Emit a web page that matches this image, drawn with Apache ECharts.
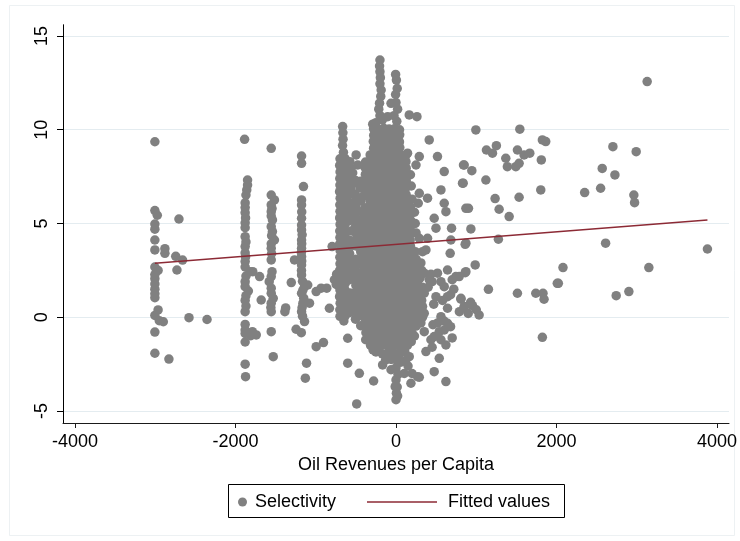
<!DOCTYPE html>
<html>
<head>
<meta charset="utf-8">
<title>Selectivity and oil revenues</title>
<script src="https://cdn.jsdelivr.net/npm/echarts@6/dist/echarts.min.js"></script>
<style>
  html, body { margin: 0; padding: 0; background: #fff; }
  #chart { width: 740px; height: 541px; }
</style>
</head>
<body>
<div id="chart"></div>
<script>
// Tick positions
const oilTicks = [-4000, -2000, 0, 2000, 4000];
const selTicks = [-5, 0, 5, 10, 15];

// Observations: [oil revenues per capita, selectivity]
const outerLeft = [
  [-3005,9.36],[-3005,5.69],[-2975,5.44],[-3005,4.97],[-3005,4.70],[-3005,4.12],[-3005,3.59],
  [-2880,3.66],[-2880,3.41],[-2745,3.25],[-2660,3.05],[-3005,2.68],[-2965,2.50],[-2730,2.52],
  [-3005,2.28],[-3005,2.06],[-3005,1.78],[-3005,1.50],[-3005,1.25],[-3005,1.04],[-2965,0.39],
  [-3005,0.10],[-2950,-0.18],[-2900,-0.24],[-3005,-0.79],[-3005,-1.92],[-2830,-2.23],
  [-2705,5.24],[-2580,-0.02],[-2355,-0.12]
];

const westBands = [
  [-1887,9.49],[-1850,7.32],[-1850,7.05],[-1860,6.79],[-1870,6.52],[-1880,6.10],[-1880,5.85],
  [-1880,5.58],[-1875,5.30],[-1880,5.04],[-1880,4.78],[-1880,4.30],[-1870,4.02],[-1880,3.77],
  [-1880,3.43],[-1875,3.22],[-1880,2.97],[-1880,2.68],[-1820,2.43],[-1870,2.20],[-1880,1.90],
  [-1880,1.63],[-1840,1.40],[-1870,1.15],[-1880,0.90],[-1870,0.60],[-1880,0.30],[-1880,-0.38],
  [-1880,-0.68],[-1880,-0.86],[-1810,-0.98],[-1880,-1.32],[-1880,-2.50],[-1875,-3.17],
  [-1785,2.43],[-1700,2.17],[-1680,0.92],[-1742,-0.94],[-1790,-0.77],
  [-1555,9.01],[-1555,6.52],[-1515,6.26],[-1555,5.99],[-1545,5.80],[-1555,5.63],[-1555,5.40],
  [-1540,5.19],[-1555,4.83],[-1540,4.57],[-1550,4.35],[-1515,4.12],[-1555,3.92],[-1555,3.68],
  [-1550,3.40],[-1555,3.06],[-1545,2.43],[-1555,2.17],[-1580,1.90],[-1555,1.55],[-1555,1.28],
  [-1530,1.01],[-1555,0.75],[-1560,0.52],[-1555,0.30],[-1555,-0.77],[-1530,-2.10],
  [-1305,1.85],[-1385,0.30],[-1375,0.50],
  [-1177,8.60],[-1177,8.21],[-1153,6.97],[-1177,6.26],[-1177,5.99],[-1175,5.62],[-1177,5.28],
  [-1177,4.92],[-1177,4.66],[-1170,4.40],[-1177,4.12],[-1175,3.92],[-1177,3.68],[-1180,3.45],
  [-1177,3.23],[-1175,3.00],[-1177,2.79],[-1178,2.50],[-1177,2.26],[-1265,3.06],[-1165,1.92],
  [-1140,1.63],[-1100,1.72],[-1160,1.45],[-1177,1.28],[-1150,1.02],[-1160,0.75],[-1078,0.75],
  [-1170,0.52],[-1177,0.30],[-1165,0.06],[-1140,-0.23],[-1245,-0.64],[-1180,-0.82],
  [-1115,-2.45],[-1130,-3.25],
  [-995,1.37],[-933,1.55],[-863,1.55],[-830,0.48],[-995,-1.57],[-904,-1.35],[-796,3.77],[-768,2.00]
];

const band700 = [
  [-665,10.17],[-662,9.84],[-660,9.50],[-666,9.16],[-655,8.80],
  [-698,8.45],[-636,8.47],[-702,8.10],[-633,8.12],[-697,7.75],[-637,7.77],[-701,7.40],[-634,7.42],
  [-699,7.05],[-636,7.07],[-703,6.70],[-632,6.72],[-696,6.35],[-638,6.37],[-700,6.00],[-635,6.02],
  [-698,5.65],[-633,5.67],[-702,5.30],[-637,5.32],[-697,4.95],[-634,4.97],[-701,4.60],[-636,4.62],
  [-699,4.25],[-632,4.27],[-703,3.90],[-638,3.92],[-696,3.55],[-635,3.57],[-700,3.20],[-633,3.22],
  [-698,2.85],[-637,2.87],[-702,2.50],[-634,2.52],[-697,2.15],[-636,2.17],[-701,1.80],[-632,1.82],
  [-699,1.45],[-638,1.47],[-703,1.10],[-635,1.12],[-696,0.75],[-633,0.77],[-700,0.40],[-637,0.42],
  [-698,0.05],[-634,0.07],[-650,-0.20],[-740,2.30],[-745,1.75],
  [-497,8.66],[-477,8.12],[-477,7.15],[-415,6.43],[-430,5.63],[-500,5.90],[-500,5.20],[-440,4.90],
  [-500,4.50],[-430,4.20],[-500,3.80],[-440,3.50],[-500,3.10],[-430,2.80],[-500,2.40],[-440,2.05],
  [-500,1.70],[-430,1.40],[-500,1.00],[-440,0.70],[-500,0.35],[-430,0.10],[-560,6.90],[-560,6.10],
  [-560,4.60],[-560,2.90],[-560,1.20],[-540,7.70]
];

// Between the -700 band and the central mass
const gapFill = [
  [-575,8.30],[-380,8.28],[-570,7.95],[-385,7.98],[-578,7.60],[-382,7.62],
  [-572,7.27],[-505,7.30],[-440,7.25],[-378,7.28],[-576,6.55],[-510,6.58],[-445,6.90],[-384,6.92],
  [-500,6.22],[-438,6.20],[-381,6.56],[-574,5.86],[-386,5.84],[-571,5.50],[-505,5.52],[-379,5.48],
  [-577,5.15],[-445,5.17],[-383,5.13],[-508,4.80],[-381,4.82],[-440,4.45],[-385,4.47],
  [-575,4.10],[-505,4.12],[-382,4.08],[-572,3.76],[-442,3.78],[-380,3.74],[-578,3.40],[-386,3.42],
  [-571,3.05],[-440,3.07],[-383,3.03],[-576,2.70],[-505,2.72],[-381,2.68],[-573,2.34],[-445,2.36],
  [-384,2.32],[-577,2.00],[-508,2.02],[-379,1.98],[-442,1.65],[-382,1.63],[-575,1.30],[-505,1.32],
  [-386,1.28],[-572,0.95],[-440,0.97],[-380,0.93],[-576,0.60],[-510,0.62],[-384,0.58],
  [-573,0.26],[-445,0.28],[-381,0.24],[-505,-0.10],[-385,-0.12],[-440,-0.45],[-380,-0.47],
  [-375,-0.82],[-378,-1.20]
];

const coreTop = [
  [-200,13.72],[-205,13.40],[-200,13.10],[-195,12.78],[-200,12.45],[-185,12.12],[-190,11.78],
  [-205,11.42],[-215,11.10],[-200,10.75],[-250,10.38],[-170,10.52],[-62,11.41],[-104,10.70],
  [-5,12.95],[5,12.65],[15,12.20],[-5,11.88],[0,11.45],[20,11.10],[-25,10.75],[10,10.45],
  [-290,10.30],[-311,8.57]
];

const core = [
  [-280,10.05],[-214,10.02],[-152,10.08],[-86,10.04],[-18,10.06],[44,10.00],
  [-278,9.70],[-216,9.72],[-148,9.68],[-84,9.71],[-22,9.69],[46,9.73],
  [-283,9.38],[-212,9.36],[-151,9.40],[-88,9.37],[-19,9.39],[43,9.35],
  [-279,9.02],[-217,9.04],[-149,9.01],[-83,9.03],[-21,9.00],[47,9.05],
  [-322,8.66],[-254,8.68],[-191,8.64],[-124,8.67],[-61,8.65],[4,8.69],[66,8.63],[126,8.66],
  [-318,8.30],[-257,8.32],[-188,8.28],[-127,8.31],[-58,8.29],[7,8.33],[63,8.27],[124,8.30],
  [-321,7.95],[-253,7.97],[-192,7.93],[-123,7.96],[-62,7.94],[3,7.98],[67,7.92],[127,7.95],
  [-319,7.62],[-256,7.60],[-189,7.64],[-126,7.61],[-59,7.63],[6,7.59],[64,7.65],[123,7.62],
  [-323,7.27],[-252,7.29],[-193,7.25],[-122,7.28],[-63,7.26],[2,7.30],[68,7.24],[128,7.27],
  [-317,6.90],[-258,6.92],[-187,6.88],[-128,6.91],[-57,6.89],[8,6.93],[62,6.87],[122,6.90],
  [-320,6.56],[-255,6.58],[-190,6.54],[-125,6.57],[-60,6.55],[5,6.59],[65,6.53],[125,6.56],
  [-324,6.20],[-251,6.22],[-194,6.18],[-121,6.21],[-64,6.19],[1,6.23],[69,6.17],[129,6.20],
  [-336,5.86],[-269,5.88],[-206,5.84],[-139,5.87],[-76,5.85],[-9,5.89],[56,5.83],[119,5.86],[181,5.88],
  [-333,5.50],[-272,5.52],[-203,5.48],[-142,5.51],[-73,5.49],[-12,5.53],[53,5.47],[122,5.50],[178,5.52],
  [-337,5.15],[-268,5.17],[-207,5.13],[-138,5.16],[-77,5.14],[-8,5.18],[57,5.12],[118,5.15],[182,5.17],
  [-334,4.80],[-271,4.82],[-204,4.78],[-141,4.81],[-74,4.79],[-11,4.83],[54,4.77],[121,4.80],[179,4.82],
  [-338,4.45],[-267,4.47],[-208,4.43],[-137,4.46],[-78,4.44],[-7,4.48],[58,4.42],[117,4.45],[183,4.47],
  [-332,4.10],[-273,4.12],[-202,4.08],[-143,4.11],[-72,4.09],[-13,4.13],[52,4.07],[123,4.10],[177,4.12],
  [-336,3.76],[-269,3.78],[-206,3.74],[-139,3.77],[-76,3.75],[-9,3.79],[56,3.73],[119,3.76],[181,3.78],
  [-333,3.40],[-272,3.42],[-203,3.38],[-142,3.41],[-73,3.39],[-12,3.43],[53,3.37],[122,3.40],[178,3.42],
  [-337,3.05],[-268,3.07],[-207,3.03],[-138,3.06],[-77,3.04],[-8,3.08],[57,3.02],[118,3.05],[182,3.07],
  [-334,2.70],[-271,2.72],[-204,2.68],[-141,2.71],[-74,2.69],[-11,2.73],[54,2.67],[121,2.70],[179,2.72],
  [-338,2.34],[-267,2.36],[-208,2.32],[-137,2.35],[-78,2.33],[-7,2.37],[58,2.31],[117,2.34],[183,2.36],
  [-332,2.00],[-273,2.02],[-202,1.98],[-143,2.01],[-72,1.99],[-13,2.03],[52,1.97],[123,2.00],[177,2.02],
  [-331,1.65],[-264,1.67],[-201,1.63],[-134,1.66],[-71,1.64],[-4,1.68],[61,1.62],[124,1.65],[191,1.67],[249,1.63],
  [-328,1.30],[-267,1.32],[-198,1.28],[-137,1.31],[-68,1.29],[-7,1.33],[58,1.27],[127,1.30],[188,1.32],[252,1.28],
  [-332,0.95],[-263,0.97],[-202,0.93],[-133,0.96],[-72,0.94],[-3,0.98],[62,0.92],[123,0.95],[192,0.97],[248,0.93],
  [-329,0.60],[-266,0.62],[-199,0.58],[-136,0.61],[-69,0.59],[-6,0.63],[59,0.57],[126,0.60],[189,0.62],[251,0.58],
  [-333,0.26],[-262,0.28],[-203,0.24],[-132,0.27],[-73,0.25],[-2,0.29],[63,0.23],[122,0.26],[193,0.28],[247,0.24],
  [-327,-0.10],[-268,-0.08],[-197,-0.12],[-138,-0.09],[-67,-0.11],[-8,-0.07],[57,-0.13],[128,-0.10],[187,-0.08],[253,-0.12],
  [-330,-0.45],[-265,-0.43],[-200,-0.47],[-135,-0.44],[-70,-0.46],[-5,-0.42],[60,-0.48],[125,-0.45],[190,-0.43],[250,-0.47],
  [-316,-0.80],[-249,-0.78],[-186,-0.82],[-119,-0.79],[-56,-0.81],[11,-0.77],[74,-0.83],[141,-0.80],
  [-313,-1.15],[-252,-1.13],[-183,-1.17],[-122,-1.14],[-53,-1.16],[8,-1.12],[77,-1.18],[138,-1.15],
  [-317,-1.50],[-248,-1.48],[-187,-1.52],[-118,-1.49],[-57,-1.51],[12,-1.47],[73,-1.53],[142,-1.50]
];

const coreTail = [
  [-250,-1.85],[-170,-1.95],[-100,-1.90],[-30,-1.88],[40,-1.92],[110,-1.85],[-130,-2.28],[-60,-2.25],
  [10,-2.30],[60,-2.40],[-62,-2.80],[0,-2.70],[25,-3.05],[0,-3.34],[-10,-3.70],[15,-3.72],[5,-4.05],
  [0,-4.40],[20,-4.20],[-167,-2.54],[-279,-3.40],[-457,-2.99],[-490,-4.62],[-602,-1.12],[-602,-2.45],
  [-285,-1.74],[103,-3.00],[186,-3.52],[269,-3.17],[165,-2.10],[150,-2.60],[200,-3.00],[290,-3.20],
  [120,-2.30],[30,-2.05],[200,-0.85],[190,-1.30],[230,-1.00]
];

const eastNear = [
  [165,10.79],[261,10.70],[414,9.46],[144,8.75],[290,8.57],[249,8.12],[517,8.57],[601,7.77],
  [841,8.12],[829,7.15],[560,6.79],[290,6.61],[393,6.35],[277,6.08],[601,6.08],[622,5.63],
  [476,5.28],[498,4.75],[692,4.75],[871,5.81],[684,4.12],[871,3.95],[675,3.41],[331,3.50],
  [290,4.21],[393,4.21],[871,2.43],[746,2.17],[642,2.52],[517,2.35],[435,2.30],[352,2.35],
  [601,1.63],[498,1.10],[642,1.10],[809,1.01],[850,0.57],[642,0.48],[560,0.03],[642,-0.32],
  [539,-0.77],[476,-1.03],[601,-0.68],[352,-0.77],[622,-1.48],[539,-2.19],[373,-1.83],
  [476,-2.90],[622,-3.43],[331,0.57],[352,1.28],[269,1.81],[373,3.59],[352,0.21],[435,-1.20],
  [414,2.00],[400,1.60],[450,1.90],[560,1.90],[700,2.00],[720,1.50],[680,1.20],[580,0.90],
  [470,0.70],[520,-0.30],[600,-0.20],[680,-0.50],[700,-1.10],[460,-0.40],[560,-1.20],[930,0.80],
  [1000,0.40],[900,0.20],[790,0.30],[450,-1.60],[787,2.17],
  [310,2.90],[320,2.50],[300,2.10],[330,1.60],[310,1.20],[320,0.90],[300,0.40],[330,0.00],
  [310,-0.30],[250,2.00],[250,2.35],[250,2.70],[250,3.10],[240,3.50],[250,4.50],[240,5.00],
  [230,5.60],[200,6.30],[190,7.00],[180,7.60]
];

const eastFar = [
  [995,9.99],[1543,10.03],[1824,9.46],[1866,9.37],[1127,8.92],[1202,8.75],[1251,9.15],[1368,8.48],
  [1388,8.03],[1513,8.92],[1534,8.21],[1493,8.03],[1596,8.66],[1667,8.75],[1811,8.39],[850,8.12],
  [945,7.82],[837,7.15],[1120,7.32],[1235,6.33],[1285,5.76],[1410,5.37],[1534,6.40],[1804,6.79],
  [903,5.81],[933,4.71],[862,3.89],[1276,4.16],[987,2.79],[862,2.38],[1152,1.49],[1513,1.28],
  [1742,1.28],[1832,1.28],[1845,0.96],[2010,1.81],[809,0.96],[850,0.53],[953,0.62],[1036,0.12],
  [1824,-1.07],[2703,9.10],[2993,8.83],[2570,7.94],[2728,7.59],[2351,6.65],[2550,6.88],[2964,6.52],
  [2973,6.11],[2612,3.95],[2081,2.65],[2023,1.81],[2744,1.15],[2902,1.37],[3151,2.65],[3130,12.57],
  [3881,3.64]
];

// Linear fit, drawn across the observed range
const fitOil = [-3005, 3881];
const fitSel = [2.88, 5.19];

const observations = [].concat(outerLeft, westBands, band700, gapFill, coreTop, core, coreTail, eastNear, eastFar);
const fitLine = fitOil.map((x, i) => [x, fitSel[i]]);

const FONT = '"Liberation Sans", Arial, Helvetica, sans-serif';
const plain = v => String(v);
const chart = echarts.init(document.getElementById('chart'), null, { renderer: 'canvas' });

chart.setOption({
  animation: false,
  backgroundColor: '#ffffff',
  textStyle: { fontFamily: FONT },
  grid: { left: 63, right: 9.6, top: 24.75, bottom: 118, containLabel: false },
  xAxis: {
    type: 'value',
    min: -4150,
    max: 4150,
    name: 'Oil Revenues per Capita',
    nameLocation: 'middle',
    nameGap: 28,
    nameTextStyle: { fontSize: 18, color: '#000', fontFamily: FONT },
    axisLine: { show: true, onZero: false, lineStyle: { color: '#1a1a1a', width: 1 } },
    axisTick: { show: true, length: 5, customValues: oilTicks, lineStyle: { color: '#1a1a1a' } },
    axisLabel: { customValues: oilTicks, formatter: plain, fontSize: 18, color: '#000', margin: 10, fontFamily: FONT },
    splitLine: { show: false }
  },
  yAxis: {
    type: 'value',
    min: -5.64,
    max: 15.6,
    axisLine: { show: true, onZero: false, lineStyle: { color: '#000', width: 1 } },
    axisTick: { show: true, length: 6, customValues: selTicks, lineStyle: { color: '#000' } },
    axisLabel: { customValues: selTicks, formatter: plain, rotate: 90, fontSize: 18, color: '#000', margin: 12, fontFamily: FONT },
    splitLine: { show: true, lineStyle: { color: '#e4ecf0', width: 1.2 } }
  },
  legend: [
    {
      data: ['Selectivity'],
      left: 238, top: 493, padding: 0,
      icon: 'circle', itemWidth: 9, itemHeight: 9,
      selectedMode: false,
      textStyle: { fontSize: 18, color: '#000', fontFamily: FONT, padding: [0, 0, 0, 3] }
    },
    {
      data: ['Fitted values'],
      left: 367, top: 493, padding: 0,
      icon: 'rect', itemWidth: 70, itemHeight: 1.5,
      selectedMode: false,
      textStyle: { fontSize: 18, color: '#000', fontFamily: FONT, padding: [0, 0, 0, 6] }
    }
  ],
  graphic: [
    { type: 'rect', silent: true, shape: { x: 9.5, y: 5.5, width: 725, height: 530 },
      style: { fill: 'none', stroke: '#edf1f3', lineWidth: 1 } },
    { type: 'rect', silent: true, shape: { x: 228.5, y: 484.5, width: 336, height: 33 },
      style: { fill: 'none', stroke: '#000', lineWidth: 1 } }
  ],
  series: [
    {
      name: 'Selectivity',
      type: 'scatter',
      data: observations,
      symbol: 'circle',
      symbolSize: 9.5,
      itemStyle: { color: '#808080', opacity: 1 },
      emphasis: { disabled: true },
      z: 2
    },
    {
      name: 'Fitted values',
      type: 'line',
      data: fitLine,
      showSymbol: false,
      symbol: 'none',
      lineStyle: { color: '#8c2a35', width: 1.4 },
      itemStyle: { color: '#8c2a35' },
      emphasis: { disabled: true },
      z: 3
    }
  ]
});
</script>
</body>
</html>
